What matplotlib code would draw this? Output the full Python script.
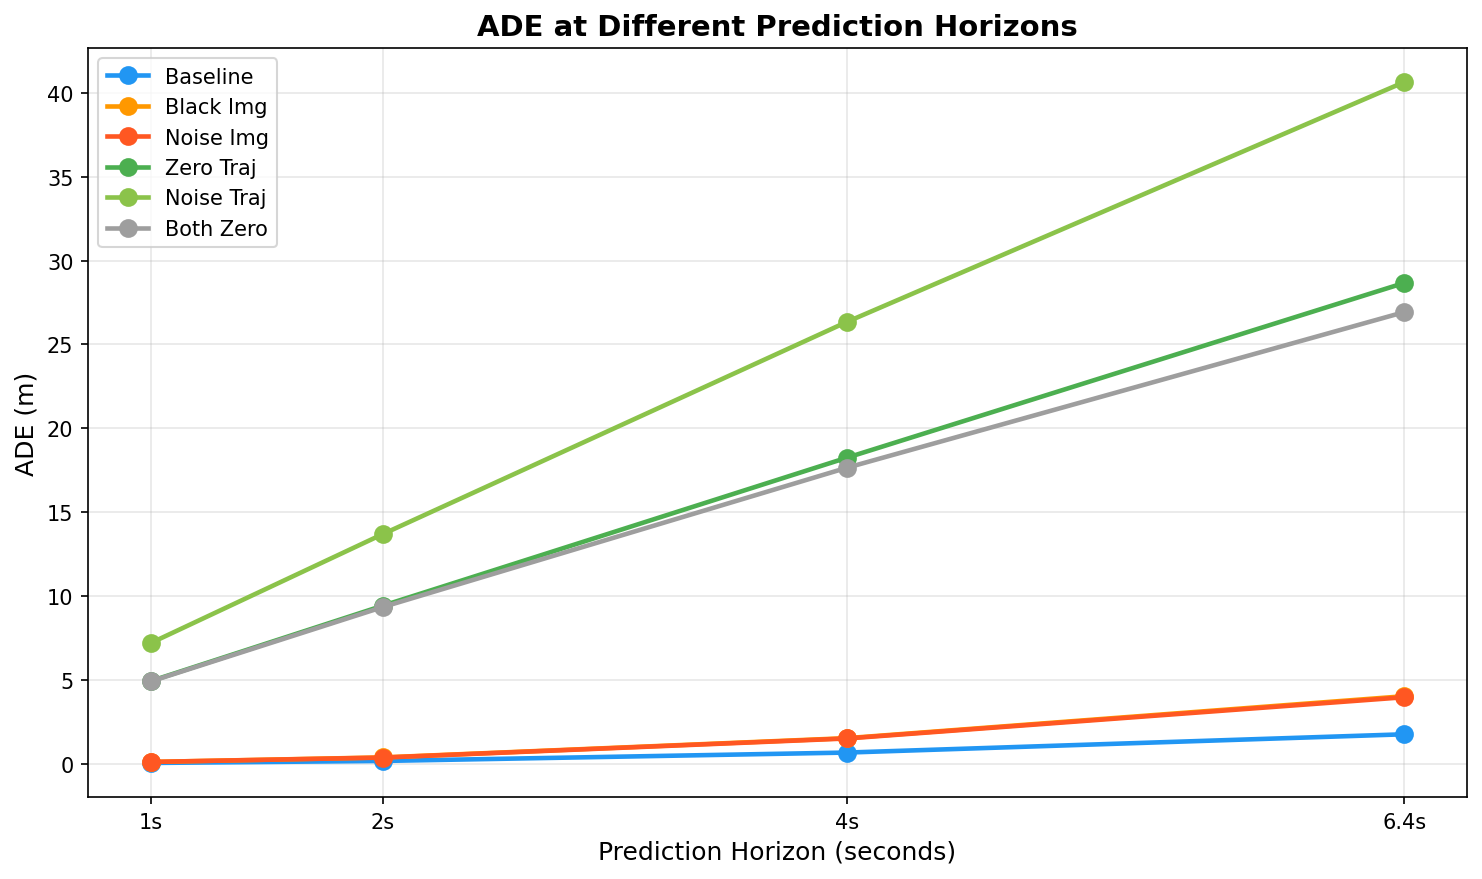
import matplotlib
matplotlib.use("Agg")
import matplotlib.pyplot as plt

horizons = [1, 2, 4, 6.4]
horizon_labels = ["1s", "2s", "4s", "6.4s"]

baseline = [0.04, 0.16, 0.66, 1.75]
black_img = [0.10, 0.37, 1.52, 4.02]
noise_img = [0.10, 0.36, 1.50, 3.96]
zero_traj = [4.92, 9.42, 18.25, 28.67]
noise_traj = [7.19, 13.69, 26.35, 40.65]
both_zero = [4.90, 9.34, 17.65, 26.93]

series = [
    ("Baseline", baseline, "#2196F3"),
    ("Black Img", black_img, "#FF9800"),
    ("Noise Img", noise_img, "#FF5722"),
    ("Zero Traj", zero_traj, "#4CAF50"),
    ("Noise Traj", noise_traj, "#8BC34A"),
    ("Both Zero", both_zero, "#9E9E9E"),
]

fig, ax = plt.subplots(figsize=(1482/150, 880/150), dpi=150)
fig.subplots_adjust(left=88/1482, right=1467/1482, top=1-49/880, bottom=1-798/880)

for name, vals, color in series:
    ax.plot(horizons, vals, marker="o", color=color, label=name, linewidth=2.2, markersize=8)

ax.set_xticks(horizons)
ax.set_xticklabels(horizon_labels)
ax.set_xlabel("Prediction Horizon (seconds)", fontsize=12)
ax.set_ylabel("ADE (m)", fontsize=12)
ax.set_title("ADE at Different Prediction Horizons", fontsize=14, fontweight="bold")
ax.grid(True, alpha=0.3)
ax.legend(loc="upper left")

fig.savefig("out.png", dpi=150)
